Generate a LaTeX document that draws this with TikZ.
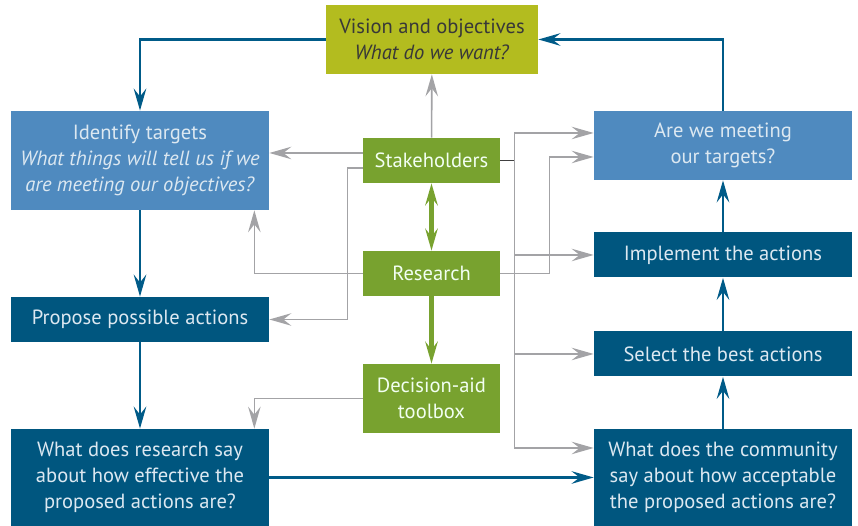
\documentclass[tikz,border=0pt]{standalone}
\usepackage{fontspec}
\setmainfont{PT Sans}
\usetikzlibrary{arrows.meta,calc,positioning}

\definecolor{visionfill}{HTML}{B3BC1F}
\definecolor{lightblue}{HTML}{4F8ABF}
\definecolor{darkblue}{HTML}{00567F}
\definecolor{leafgreen}{HTML}{78A22F}
\definecolor{flowblue}{HTML}{005B88}
\definecolor{auxgray}{HTML}{A3A3A6}
\definecolor{boxtext}{HTML}{DCE8F1}

\begin{document}
\begin{tikzpicture}[
    >={Stealth[length=0.44cm, width=0.25cm, inset=0.16cm]},
    box/.style={rectangle, inner sep=3pt, align=center,
                font=\fontsize{11.7}{14.8}\selectfont,
                minimum width=5.16cm, text=boxtext},
    light/.style={box, fill=lightblue},
    dark/.style={box, fill=darkblue, minimum height=0.9cm},
    hub/.style={box, fill=leafgreen, minimum width=2.74cm,
                minimum height=0.9cm, text=green!5!white},
    flow/.style={->, draw=flowblue, line width=1.7pt},
    feed/.style={->, draw=leafgreen, line width=2.8pt},
    aux/.style={->, draw=auxgray, line width=0.9pt},
  ]
  \useasboundingbox (0,0) rectangle (17.16,10.52);

  % ===== Top: vision =====
  \node[box, fill=visionfill, text=black!78, minimum width=4.24cm,
        minimum height=1.38cm] (vision) at (8.64, 9.73)
        {Vision and objectives\\\textit{What do we want?}};

  % ===== Left column =====
  \node[light, minimum height=1.98cm] (ident) at (2.80, 7.31)
        {Identify targets\\\textit{What things will tell us if we}\\
         \textit{are meeting our objectives?}};
  \node[dark] (prop) at (2.80, 4.13) {Propose possible actions};
  \node[dark, minimum height=1.94cm] (effect) at (2.80, 0.97)
        {What does research say\\about how effective the\\
         proposed actions are?};

  % ===== Centre: inputs =====
  \node[hub] (stake) at (8.63, 7.31) {Stakeholders};
  \node[hub] (res) at (8.63, 5.05) {Research};
  \node[hub, minimum height=1.38cm] (toolbox) at (8.63, 2.55)
        {Decision-aid\\toolbox};

  % ===== Right column =====
  \node[light, minimum height=1.38cm] (meet) at (14.46, 7.61)
        {Are we meeting\\our targets?};
  \node[dark] (impl) at (14.46, 5.42) {Implement the actions};
  \node[dark] (best) at (14.46, 3.44) {Select the best actions};
  \node[dark, minimum height=1.94cm] (comm) at (14.46, 0.97)
        {What does the community\\say about how acceptable\\
         the proposed actions are?};

  % Main loop
  \draw[flow] (vision.west) -| (ident.north);
  \draw[flow] (ident) -- (prop);
  \draw[flow] (prop) -- (effect);
  \draw[flow] (effect) -- (comm);
  \draw[flow] (comm) -- (best);
  \draw[flow] (best) -- (impl);
  \draw[flow] (impl) -- (meet);
  \draw[flow] (meet.north) |- (vision.east);

  % Research and toolbox links
  \draw[feed, <->] (stake) -- (res);
  \draw[feed] (res) -- (toolbox);

  % Stakeholders to the left column
  \coordinate (skup) at ($(stake.west)+(0,0.15)$);
  \coordinate (skdown) at ($(stake.west)+(0,-0.15)$);
  \draw[aux] (stake) -- (vision);
  \draw[aux] (skup) -- (skup -| ident.east);
  \draw[aux] (skdown) -- ++(-0.3,0) |- (prop.east);
  \draw[aux] (res.west) -| ($(ident.south east)+(-0.3,0)$);
  \draw[aux] (toolbox.west) -| ($(effect.north east)+(-0.3,0)$);

  % Stakeholders bus to the right column
  \coordinate (bus) at ($(stake.east)+(0.28,0)$);
  \coordinate (meetin) at ($(meet.west)+(0,0.25)$);
  \coordinate (commin) at ($(comm.west)+(0,0.59)$);
  \draw[black!75, line width=0.9pt] (stake.east) -- (bus);
  \draw[draw=auxgray, line width=0.9pt] (bus |- meetin) -- (bus |- commin);
  \draw[aux] (bus |- meetin) -- (meetin);
  \draw[aux] (bus |- impl.west) -- (impl.west);
  \draw[aux] (bus |- best.west) -- (best.west);
  \draw[aux] (bus |- commin) -- (commin);

  % Research to the right column
  \draw[aux] (res.east) -- ++(0.98,0) |- ($(meet.west)+(0,-0.23)$);

\end{tikzpicture}
\end{document}
